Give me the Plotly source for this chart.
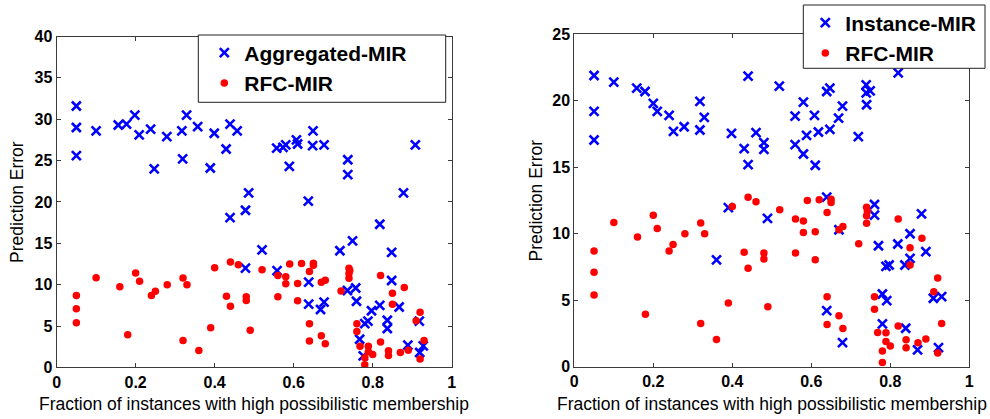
import plotly.graph_objects as go

# ---------------- data ----------------
x_ticks = [0, 0.2, 0.4, 0.6, 0.8, 1]
x_tick_labels = ["0", "0.2", "0.4", "0.6", "0.8", "1"]
y_ticks_left = [0, 5, 10, 15, 20, 25, 30, 35, 40]
y_ticks_right = [0, 5, 10, 15, 20, 25]

# RFC-MIR (same in both panels)
rfc_x = [0.05, 0.05, 0.05, 0.10, 0.16, 0.18, 0.20, 0.21, 0.24, 0.25, 0.28, 0.32, 0.33, 0.32, 0.36,
         0.39, 0.40, 0.44, 0.46, 0.43, 0.44, 0.48, 0.48, 0.49, 0.52, 0.56, 0.58, 0.58, 0.56, 0.59,
         0.61, 0.61, 0.62, 0.65, 0.65, 0.64, 0.67, 0.68, 0.64, 0.64, 0.67, 0.68, 0.72, 0.74, 0.742,
         0.74, 0.74, 0.76, 0.76, 0.768, 0.789, 0.789, 0.80, 0.78, 0.78, 0.82, 0.82, 0.84, 0.84, 0.85,
         0.85, 0.88, 0.87, 0.89, 0.91, 0.92, 0.93, 0.92]
rfc_y = [8.7, 7.1, 5.4, 10.85, 9.75, 3.95, 11.4, 10.4, 8.7, 9.2, 10.0, 10.8, 10.0, 3.25, 2.05,
         4.8, 12.05, 12.75, 12.4, 8.6, 7.4, 8.55, 8.1, 4.5, 11.8, 11.1, 10.95, 10.1, 8.55, 12.5,
         10.15, 8.05, 12.55, 12.6, 12.35, 11.6, 10.3, 10.55, 5.27, 3.18, 3.84, 2.87, 9.25, 12.0, 11.7,
         11.36, 10.78, 5.27, 4.33, 2.57, 2.55, 1.9, 1.56, 1.18, 0.31, 11.1, 3.07, 2.02, 1.43, 8.95,
         7.64, 9.66, 1.81, 2.08, 5.63, 6.68, 3.24, 1.03]

# Aggregated-MIR (left panel)
agg_x = [0.05, 0.05, 0.05, 0.10, 0.156, 0.177, 0.198, 0.209, 0.238, 0.247, 0.279, 0.317, 0.329,
         0.319, 0.357, 0.399, 0.389, 0.429, 0.439, 0.457, 0.439, 0.478, 0.486, 0.478, 0.52, 0.557,
         0.573, 0.58, 0.558, 0.589, 0.607, 0.61, 0.637, 0.649, 0.648, 0.677, 0.638, 0.638, 0.668,
         0.677, 0.717, 0.737, 0.737, 0.749, 0.736, 0.757, 0.759, 0.767, 0.776, 0.78, 0.788, 0.797,
         0.818, 0.818, 0.837, 0.837, 0.848, 0.848, 0.867, 0.878, 0.889, 0.908, 0.918, 0.919, 0.928]
agg_y = [31.6, 29.0, 25.6, 28.6, 29.3, 29.4, 30.5, 28.1, 28.8, 24.0, 27.9, 28.6, 30.5,
         25.2, 29.1, 28.3, 24.1, 26.4, 29.4, 28.6, 18.1, 19.0, 21.1, 12.0, 14.2, 26.5,
         26.6, 26.9, 11.7, 24.3, 27.5, 27.0, 20.1, 28.6, 26.8, 26.9, 10.3, 7.65, 7.0,
         7.9, 14.1, 25.1, 23.3, 15.3, 9.3, 9.6, 8.0, 3.4, 1.4, 5.3, 5.6, 6.85,
         7.5, 17.3, 5.7, 4.7, 13.9, 10.5, 7.3, 21.1, 2.7, 26.9, 5.6, 1.8, 2.6]

# Instance-MIR (right panel)
inst_x = [0.05, 0.05, 0.05, 0.10, 0.158, 0.179, 0.20, 0.21, 0.24, 0.251, 0.278, 0.318, 0.318,
          0.329, 0.36, 0.39, 0.398, 0.43, 0.44, 0.44, 0.46, 0.48, 0.48, 0.489, 0.519, 0.559, 0.58,
          0.608, 0.559, 0.58, 0.588, 0.618, 0.61, 0.639, 0.647, 0.647, 0.669, 0.679, 0.719, 0.739,
          0.749, 0.739, 0.74, 0.82, 0.639, 0.76, 0.76, 0.67, 0.879, 0.85, 0.819, 0.77, 0.89, 0.85,
          0.837, 0.789, 0.797, 0.78, 0.791, 0.909, 0.93, 0.639, 0.679, 0.78, 0.839, 0.869, 0.922]
inst_y = [21.9, 19.2, 17.05, 21.4, 20.95, 20.7, 19.8, 19.2, 18.9, 17.7, 18.05, 19.95, 17.8,
          18.75, 8.03, 11.96, 17.55, 16.4, 21.85, 15.2, 17.6, 16.85, 16.35, 11.16, 21.1, 18.85, 19.9,
          18.9, 16.7, 16.0, 17.4, 17.65, 15.15, 20.7, 20.95, 17.85, 18.7, 19.6, 17.3, 21.2,
          20.75, 20.6, 19.7, 22.1, 12.75, 12.2, 11.4, 10.3, 11.5, 10.0, 9.23, 9.1, 8.65, 8.15,
          7.65, 7.55, 7.65, 5.47, 4.97, 5.15, 5.27, 4.22, 1.81, 3.22, 2.89, 1.26, 1.44]

x_title = "Fraction of instances with high possibilistic membership"
y_title = "Prediction Error"

# ---------------- layout helpers ----------------
W, H = 990, 419
FONT = "Liberation Sans"


def px(x):
    return x / W


def py(y):
    return 1 - y / H


BLUE = "#0000ff"
RED = "#ff0000"

x_marker = dict(symbol="x-thin-open", size=9, color=BLUE, line=dict(color=BLUE, width=2.6))
dot_marker = dict(symbol="circle", size=7.5, color=RED, line=dict(width=0))

fig = go.Figure()
fig.add_trace(go.Scatter(x=agg_x, y=agg_y, mode="markers", name="Aggregated-MIR",
                         marker=x_marker, xaxis="x", yaxis="y", legend="legend"))
fig.add_trace(go.Scatter(x=rfc_x, y=rfc_y, mode="markers", name="RFC-MIR",
                         marker=dot_marker, xaxis="x", yaxis="y", legend="legend"))
fig.add_trace(go.Scatter(x=inst_x, y=inst_y, mode="markers", name="Instance-MIR",
                         marker=x_marker, xaxis="x2", yaxis="y2", legend="legend2"))
fig.add_trace(go.Scatter(x=rfc_x, y=rfc_y, mode="markers", name="RFC-MIR",
                         marker=dot_marker, xaxis="x2", yaxis="y2", legend="legend2"))

# axes geometry (pixels)
L_X0, L_X1, L_Y0, L_Y1 = 56.6, 451.7, 36.5, 367.4
R_X0, R_X1, R_Y0, R_Y1 = 574.3, 969.3, 34.3, 366.7

tickfont = dict(family=FONT, size=16, color="black", weight="bold")
common = dict(showline=True, linecolor="#3a3a3a", linewidth=1, mirror="ticks",
              ticks="inside", ticklen=4, tickcolor="#3a3a3a", showgrid=False,
              zeroline=False, tickfont=tickfont, automargin=False)

legend_font = dict(family=FONT, size=21, color="black", weight="bold")

fig.update_layout(
    width=W, height=H,
    margin=dict(l=0, r=0, t=0, b=0, pad=0, autoexpand=False),
    paper_bgcolor="white", plot_bgcolor="white",
    font=dict(family=FONT, color="black"),
    xaxis=dict(domain=[px(L_X0), px(L_X1)], range=[0, 1], tickvals=x_ticks,
               ticktext=x_tick_labels, anchor="y", **common),
    yaxis=dict(domain=[py(L_Y1), py(L_Y0)], range=[0, 40], tickvals=y_ticks_left,
               anchor="x", **common),
    xaxis2=dict(domain=[px(R_X0), px(R_X1)], range=[0, 1], tickvals=x_ticks,
                ticktext=x_tick_labels, anchor="y2", **common),
    yaxis2=dict(domain=[py(R_Y1), py(R_Y0)], range=[0, 25], tickvals=y_ticks_right,
                anchor="x2", **common),
    showlegend=True,
    legend=dict(x=px(204.3), y=py(32.5), xanchor="left", yanchor="top",
                bgcolor="rgba(0,0,0,0)", borderwidth=0, tracegroupgap=0,
                font=legend_font),
    legend2=dict(x=px(805.3), y=py(2.5), xanchor="left", yanchor="top",
                 bgcolor="rgba(0,0,0,0)", borderwidth=0, tracegroupgap=0,
                 font=legend_font),
    shapes=[
        dict(type="rect", xref="paper", yref="paper", layer="above",
             x0=px(198.3), x1=px(445.7), y0=py(102.3), y1=py(35),
             line=dict(color="#222", width=1), fillcolor="white"),
        dict(type="rect", xref="paper", yref="paper", layer="above",
             x0=px(803.3), x1=px(985), y0=py(68.3), y1=py(5),
             line=dict(color="#222", width=1), fillcolor="white"),
    ],
    annotations=[
        dict(text=x_title, xref="paper", yref="paper", x=px((L_X0 + L_X1) / 2), y=py(404),
             xanchor="center", yanchor="middle", showarrow=False,
             font=dict(family=FONT, size=17.5, color="black")),
        dict(text=x_title, xref="paper", yref="paper", x=px((R_X0 + R_X1) / 2), y=py(404),
             xanchor="center", yanchor="middle", showarrow=False,
             font=dict(family=FONT, size=17.5, color="black")),
        dict(text=y_title, xref="paper", yref="paper", x=px(17), y=py((L_Y0 + L_Y1) / 2),
             xanchor="center", yanchor="middle", showarrow=False, textangle=-90,
             font=dict(family=FONT, size=17.5, color="black")),
        dict(text=y_title, xref="paper", yref="paper", x=px(535), y=py((R_Y0 + R_Y1) / 2),
             xanchor="center", yanchor="middle", showarrow=False, textangle=-90,
             font=dict(family=FONT, size=17.5, color="black")),
    ],
)

# remove the browser's default 8px body margin so the figure sits at the page origin
fig.write_html("out.html",
               config={"displayModeBar": False},
               post_script="document.body.style.margin='0';document.body.style.overflow='hidden';")
